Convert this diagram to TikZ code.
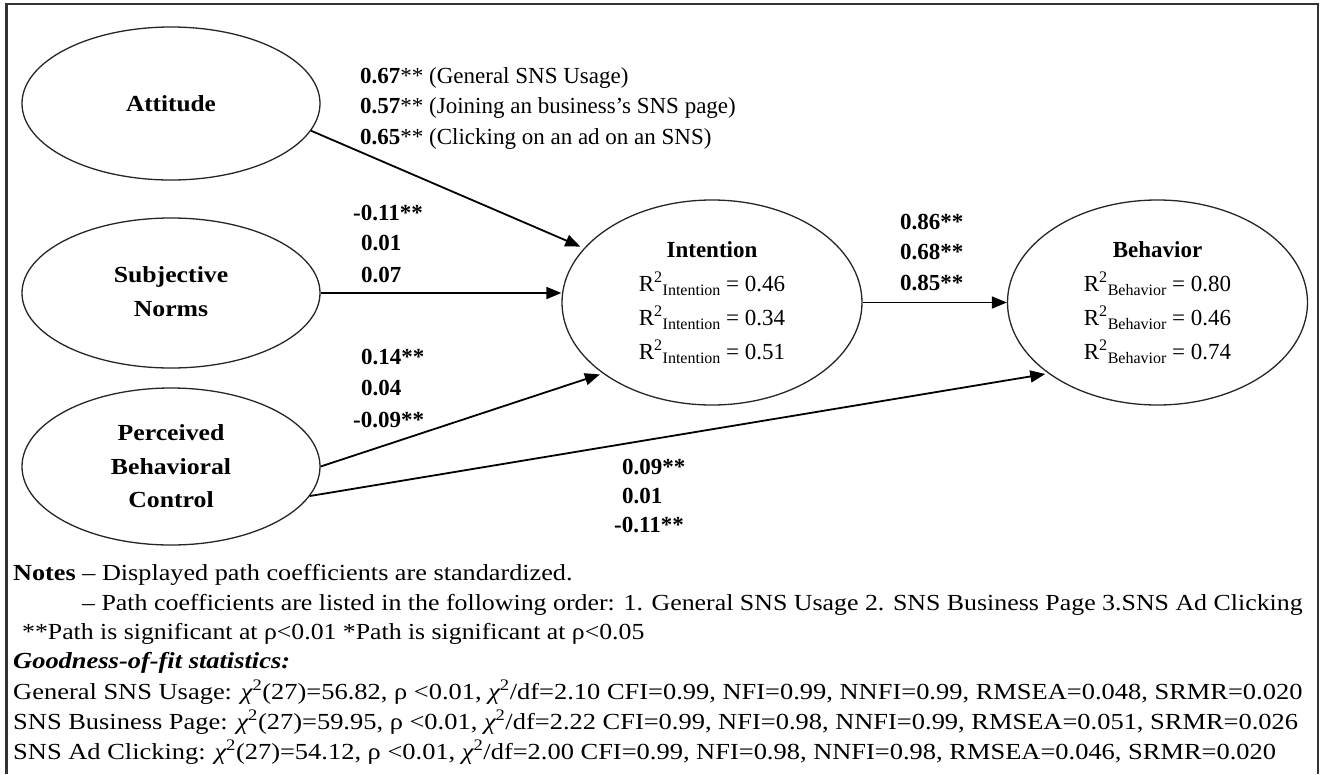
\documentclass[tikz,border=0pt]{standalone}
\usepackage{fontspec}
\setmainfont{Liberation Serif}
\usepackage{graphicx}
\usetikzlibrary{shapes.geometric,arrows.meta}

% horizontally widened text line
\newcommand{\stretchline}[2][1.12]{\scalebox{#1}[1]{#2}}
% squared multiple correlation with a subscripted construct name
\newcommand{\rsq}[2]{R\textsuperscript{2}\raisebox{-4.5pt}{\fontsize{16}{16}\selectfont #1} = #2}

\tikzset{
  construct/.style={ellipse, draw=black!85, line width=1.3pt, inner sep=0pt, align=center,
    font=\fontsize{23}{33.5}\selectfont\bfseries},
  outcome/.style={ellipse, draw=black!85, line width=1.3pt, inner sep=0pt, align=center,
    font=\fontsize{23}{34}\selectfont, minimum width=300pt, minimum height=205pt},
  link/.style={draw=black, line width=1.8pt, -{Triangle[length=15pt,width=12pt]}},
  coef/.style={anchor=west, inner sep=0pt, font=\fontsize{23}{27}\selectfont},
  note/.style={anchor=west, inner sep=0pt, font=\fontsize{23}{27}\selectfont},
}

\begin{document}
\begin{tikzpicture}[x=1pt, y=-1pt]
\useasboundingbox (0,0) rectangle (1323,774);
\fill[white] (0,0) rectangle (1323,774);

% frame
\draw[black!80, line width=2.7pt] (6.5,774) -- (6.5,4) -- (1318,4) -- (1318,774);

% constructs
\node[construct, minimum width=298pt, minimum height=153pt] (att) at (171,103.5)
  {\stretchline[1.1]{Attitude}};
\node[construct, minimum width=298pt, minimum height=150pt] (sub) at (171,293)
  {\raisebox{11pt}{\begin{tabular}{@{}c@{}}\stretchline{Subjective}\\\stretchline{Norms}\end{tabular}}};
\node[construct, minimum width=298pt, minimum height=157pt] (pbc) at (171,466.5)
  {\stretchline{Perceived}\\\stretchline{Behavioral}\\\stretchline{Control}};

\node[outcome] (int) at (712,302.5)
  {\textbf{Intention}\\
   \rsq{Intention}{0.46}\\
   \rsq{Intention}{0.34}\\
   \rsq{Intention}{0.51}};
\node[outcome] (beh) at (1157.5,302.5)
  {\textbf{Behavior}\\
   \rsq{Behavior}{0.80}\\
   \rsq{Behavior}{0.46}\\
   \rsq{Behavior}{0.74}};

% paths
\draw[link, shorten >=4pt] (att.-11.6) -- (int.157);
\draw[link] (sub.east) -- (sub.east -| int.west);
\draw[link, shorten >=3pt] (pbc.east) -- (int.213);
\draw[link, shorten >=3pt] (pbc.-12.4) -- (beh.213);
\draw[link] (int.east) -- (beh.west);

% path coefficients
\node[coef] (a1) at (360,78)  {\textbf{0.67}** (General SNS Usage)};
\node[coef] (a2) at (360,108) {\textbf{0.57}** (Joining an business’s SNS page)};
\node[coef] (a3) at (360,139) {\textbf{0.65}** (Clicking on an ad on an SNS)};

\node[coef] (b1) at (353,213) {\textbf{-0.11**}};
\node[coef] (b2) at (361,243) {\textbf{0.01}};
\node[coef] (b3) at (361,275) {\textbf{0.07}};

\node[coef] (c1) at (361,357) {\textbf{0.14**}};
\node[coef] (c2) at (361,388) {\textbf{0.04}};
\node[coef] (c3) at (353,420) {\textbf{-0.09**}};

\node[coef] (d1) at (900,222) {\textbf{0.86**}};
\node[coef] (d2) at (900,252) {\textbf{0.68**}};
\node[coef] (d3) at (900,283) {\textbf{0.85**}};

\node[coef] (e1) at (622,467) {\textbf{0.09**}};
\node[coef] (e2) at (622,496) {\textbf{0.01}};
\node[coef] (e3) at (614,525) {\textbf{-0.11**}};

% notes
\node[note] (n1) at (13,575) {\stretchline[1.14]{\textbf{Notes} – Displayed path coefficients are standardized.}};
\node[note] (n2) at (82,605) {\stretchline[1.125]{– Path coefficients are listed in the following order: 1. General SNS Usage 2. SNS Business Page 3.SNS Ad Clicking}};
\node[note] (n3) at (22,634) {\stretchline[1.12]{**Path is significant at ρ<0.01 *Path is significant at ρ<0.05}};
\node[note] (n4) at (13,663) {\stretchline[1.15]{\textbf{\textit{Goodness-of-fit statistics:}}}};
\node[note] (n5) at (13,692) {\stretchline[1.15]{General SNS Usage: {\itshape χ}\textsuperscript{2}(27)=56.82, ρ <0.01, {\itshape χ}\textsuperscript{2}/df=2.10 CFI=0.99, NFI=0.99, NNFI=0.99, RMSEA=0.048, SRMR=0.020}};
\node[note] (n6) at (13,722) {\stretchline[1.15]{SNS Business Page: {\itshape χ}\textsuperscript{2}(27)=59.95, ρ <0.01, {\itshape χ}\textsuperscript{2}/df=2.22 CFI=0.99, NFI=0.98, NNFI=0.99, RMSEA=0.051, SRMR=0.026}};
\node[note] (n7) at (13,752) {\stretchline[1.15]{SNS Ad Clicking: {\itshape χ}\textsuperscript{2}(27)=54.12, ρ <0.01, {\itshape χ}\textsuperscript{2}/df=2.00 CFI=0.99, NFI=0.98, NNFI=0.98, RMSEA=0.046, SRMR=0.020}};
\end{tikzpicture}
\end{document}
